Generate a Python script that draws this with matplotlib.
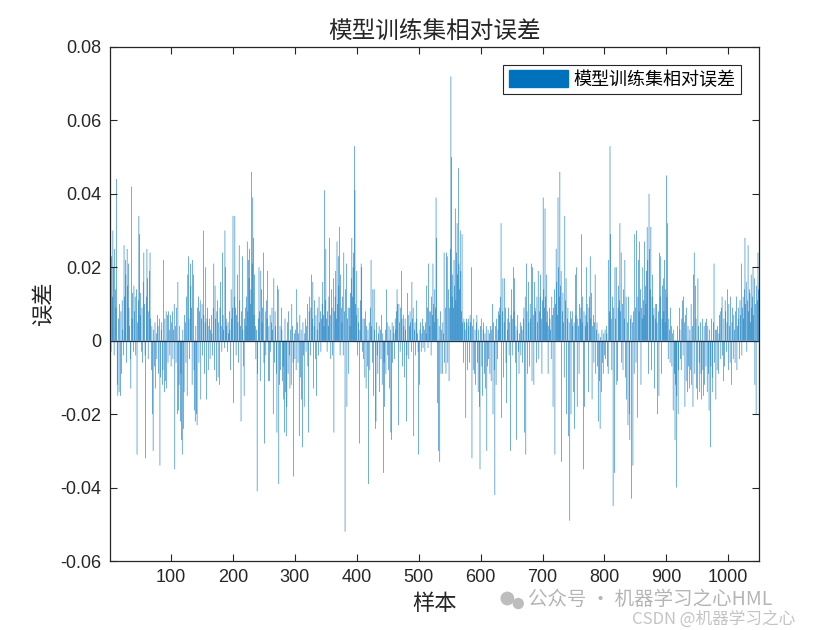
import numpy as np
import matplotlib
matplotlib.use("Agg")
import matplotlib.pyplot as plt
import matplotlib.patches as mpatches

# 相对误差，单位 1e-3（从图上逐段估读）
err_pm = [
    # 1-50
    8, 18, -3, 23, 12, 30, 20, -4, 25, 14, 9, 44, -12, -15, 6, -14, 10, -15, 8, -9, 11, 3, -4, 26, 12,
    22, 18, -6, 25, 15, 21, 9, 4, -5, -13, 42, 6, 13, -3, 15, 8, 12, -4, 14, -31, 5, 11, 34, 29, 7,
    # 51-100
    13, -3, 9, -6, 16, 24, 10, -4, -32, 12, 25, 17, -5, 8, 19, 24, 6, -8, 4, -20, -30, 3, -7, 5, -13,
    2, -5, 7, 4, -9, 6, -34, -10, 3, 5, -12, -8, 22, -14, 6, -11, 8, -13, 7, -6, 8, 3, -4, 7, -7,
    # 101-150
    5, 8, -5, 3, 10, -35, 4, -6, 9, -20, 16, -19, -12, 4, -22, -9, -27, -31, 3, -24, -14, 7, 5, -6, 12,
    -15, 18, 23, 6, -5, 21, 15, 9, -12, 22, 18, -8, -19, -22, 4, -20, -23, 9, 12, -6, 8, 11, -16, 6, 10,
    # 151-200
    -4, 30, 7, -9, 5, 20, -16, 6, 9, -8, 4, 6, -5, 3, 7, 2, -4, 9, 21, -8, 15, 6, -11, 8, 11,
    -10, 5, -12, 9, 16, 4, -3, 24, 7, 3, -2, 30, 20, 6, 4, -3, 5, 2, 8, 3, -8, 14, 6, 9, 34,
    # 201-250
    -17, 12, 34, 9, -4, 7, 18, 5, -6, 26, 11, 4, -22, 8, 23, 3, -7, -15, 6, 9, 4, 12, 27, 8, 22,
    17, 25, 10, 14, 46, 21, 39, 28, 7, 18, 4, -5, 3, -41, -9, 6, 20, 8, -11, 19, 14, 5, 9, 24, -6,
    # 251-300
    -28, 8, -4, 11, 6, 19, -11, 4, -11, 7, -3, 5, 9, 3, -20, 17, -6, 8, 4, -9, -25, 15, 14, -39, -12,
    4, -8, 9, 3, -11, -7, -16, -25, 6, -14, -26, -18, 5, -9, 8, -4, -13, 3, -12, 10, 4, -6, -37, 2, -5,
    # 301-350
    3, -8, 14, 5, -6, 2, -26, 7, -10, 3, -16, -29, 5, -4, -18, 2, 6, -3, 4, 10, -7, -25, 8, 12, -4,
    9, 18, 6, 16, -13, 4, 11, -5, 7, -15, 3, 9, -4, 12, 5, 8, -3, 6, 10, 16, 7, 4, 41, 11, 25,
    # 351-400
    6, -3, 8, 4, 12, 28, 7, -5, 14, 9, -4, 17, -25, 8, 12, 19, 6, 27, 10, 23, 15, 31, -4, 18, 9,
    5, 12, -4, 24, 8, -52, 14, 21, -18, 6, 9, -9, 9, 4, 13, 17, 28, 12, 20, 24, 53, 41, 10, 7, 19,
    # 401-450
    -4, 9, 5, -28, 3, 11, 21, 20, -3, 6, -5, 6, -10, 8, -13, 4, -7, 3, -39, 5, -8, 9, 22, 4, -6,
    14, -15, 14, 3, -24, -22, 5, -4, -9, 2, 4, -14, 3, -5, 7, -12, 2, -36, -6, -18, 3, -9, 14, 5, -4,
    # 451-500
    -8, 4, -13, 3, -25, -27, 5, -6, 4, 2, -5, 6, 3, 8, 14, 10, -23, 10, 5, -3, 9, 19, 6, -7, 7,
    4, -10, 6, 3, -22, -4, 13, 7, -5, 4, 8, 5, -3, 16, 6, 9, -26, 3, 5, -4, 11, 6, 2, -3, -31,
    # 501-550
    -12, 3, 5, -3, 2, 6, -2, 4, 3, -3, 5, 2, 15, 9, -2, 21, 8, 4, 8, -4, 12, 7, 21, 10, 5,
    14, 9, 39, 28, -17, 6, -30, 4, -33, 8, -9, 3, -9, 5, 2, 24, -6, 9, -9, 24, 23, -6, 14, -11, 9,
    # 551-600
    25, 72, 50, 12, 18, 9, 22, 15, 36, 11, 24, 32, 18, 47, 21, 14, 30, 19, 8, 29, 5, -6, 6, 5, 3,
    -21, 6, 5, -8, 6, 4, -6, 7, 5, 20, -32, 4, -8, 6, -9, 3, -12, 5, 7, -6, -14, 3, -18, -35, 4,
    # 601-650
    6, -7, -15, 3, 5, -9, 2, -13, 4, -30, -7, 3, -5, 2, -9, 4, -11, 3, 10, -20, 5, -8, -42, 4, -12,
    6, -5, 3, 8, 7, 9, 12, 32, -21, 8, 17, -10, 5, 17, 9, -6, -17, 3, 6, 9, -4, 5, -30, 7, 14,
    # 651-700
    6, -4, 20, 8, 17, -6, 4, -27, 3, 7, -3, -9, 2, 5, -4, 4, 3, -6, 6, 9, -25, 12, -31, 21, 8,
    -9, 16, 5, -7, 10, 6, 21, -11, 20, 7, -12, 16, 9, 8, -6, 12, 5, 19, -5, 8, 12, 18, 6, -9, 11,
    # 701-750
    39, 14, 9, 36, 12, 18, 5, 8, -9, 4, 9, 6, 3, -5, 12, 7, -18, 9, 14, -31, 10, 25, 16, 7, 39,
    20, 12, 46, 15, 19, -33, 8, 13, 5, -10, 34, 11, 17, -20, 6, 9, -26, 5, -49, 8, -20, 6, 8, 4, -14,
    # 751-800
    5, -24, 18, 7, 20, -18, 6, 4, -9, 10, 6, 9, 29, 5, 12, -35, 8, -18, 4, 7, 20, 10, 5, -14, 9,
    12, 23, 6, 13, -16, 4, 7, -6, 5, 18, -9, 3, 5, -7, -22, 2, -11, -24, 1, -14, 3, -6, -9, 2, -4,
    # 801-850
    3, -5, 4, 2, -7, -9, 22, 8, 53, 29, 6, -8, 12, -45, 9, -36, 20, 6, 20, -12, -11, 9, 15, 11, 32,
    8, 24, -6, 10, -8, 14, 6, 22, -10, 12, -16, 5, -23, 12, -20, -27, 6, 7, -43, 5, -34, 8, -9, 29, 9,
    # 851-900
    -6, 30, -21, 12, 22, 8, 27, 14, -12, 9, 6, 20, 11, 7, 27, 15, 10, 19, 31, 22, -9, 40, 25, 14, 31,
    -8, 12, 18, 7, 9, -13, 6, 10, 10, 5, -20, 8, -15, 24, 12, 23, -9, 6, 15, 17, 8, 22, 5, 14, 45,
    # 901-950
    12, 32, -5, 6, 3, -6, 9, 4, -7, 2, -19, 3, -9, -27, -12, -40, -15, 4, -20, -8, 9, 3, -5, -8, 6,
    11, -4, 12, 5, -18, 7, -11, 9, -14, 4, -7, -13, 3, -8, 10, -12, 4, -18, 18, 24, -9, 15, 6, -13, -16,
    # 951-1000
    17, 4, -6, -14, 5, -9, -16, 6, -8, -15, 4, -12, 5, -7, 6, -14, 4, -9, -19, 3, -29, -7, 6, -10, -14,
    5, 21, -6, 3, -16, 3, -8, 4, -9, 2, 7, 8, -5, 9, 12, -4, -11, 6, -7, 11, 8, -3, 5, 14, -8,
    # 1001-1050
    10, 4, -6, 12, -12, 5, 9, -5, 7, 3, -6, 8, 12, -8, 4, 6, 9, -5, 11, 7, 21, -4, 9, 12, 6,
    14, 28, 10, 16, -3, 11, 26, 8, 14, 13, 5, 18, 9, 12, 20, 7, 17, -12, 10, -20, 15, 11, 24, 14, 17,
]
err = np.array(err_pm) / 1000.0
samples = np.arange(1, len(err) + 1)

x_ticks = [100, 200, 300, 400, 500, 600, 700, 800, 900, 1000]
y_ticks = [-0.06, -0.04, -0.02, 0, 0.02, 0.04, 0.06, 0.08]
y_labels = ["-0.06", "-0.04", "-0.02", "0", "0.02", "0.04", "0.06", "0.08"]

BAR_COLOR = "#0072BD"
TXT = "#262626"
CJK = ["Noto Sans CJK SC", "DejaVu Sans"]

plt.rcParams["font.family"] = ["Liberation Sans", "DejaVu Sans"]

fig = plt.figure(figsize=(8.4, 6.3), dpi=100)
ax = fig.add_axes([0.131, 0.1095, 0.7726, 0.8159])

# 柱宽远小于 1 像素，关掉 snap 以免细柱被吞掉
bars = ax.bar(samples, err, width=0.9, color=BAR_COLOR, linewidth=0)
for b in bars:
    b.set_snap(False)
ax.axhline(0, color="#1d2f45", lw=0.9, zorder=3)

ax.set_xlim(1.4, 1049.7)
ax.set_ylim(-0.06, 0.08)
ax.set_xticks(x_ticks)
ax.set_yticks(y_ticks)
ax.set_yticklabels(y_labels)
ax.tick_params(direction="in", top=True, right=True, length=5, width=0.8,
               labelsize=13, colors=TXT, pad=6)
for sp in ax.spines.values():
    sp.set_color(TXT)
    sp.set_linewidth(0.9)

ax.set_title("模型训练集相对误差", family=CJK, fontsize=17, color=TXT, pad=6)
ax.set_xlabel("样本", family=CJK, fontsize=16, color=TXT, labelpad=4)
ax.set_ylabel("误差", family=CJK, fontsize=16, color=TXT, labelpad=4)

patch = mpatches.Patch(color=BAR_COLOR, label="模型训练集相对误差")
leg = ax.legend(handles=[patch], loc="upper right", fancybox=False,
                framealpha=1, edgecolor=TXT, handlelength=3.3, handleheight=1.0,
                borderaxespad=1.0, prop={"family": CJK, "size": 13},
                borderpad=0.3, handletextpad=0.3)
leg.get_frame().set_linewidth(0.8)

# 水印
for cx, cy, r in [(0.604, 0.050, 0.011), (0.617, 0.042, 0.009)]:
    fig.add_artist(mpatches.Ellipse((cx, cy), 2 * r * 0.75, 2 * r, transform=fig.transFigure,
                                    color="#bdbdbd", lw=0))
fig.text(0.628, 0.048, "公众号 · 机器学习之心HML", family=CJK, fontsize=14,
         color="#b5b5b5", ha="left", va="center")
fig.text(0.752, 0.018, "CSDN @机器学习之心", family=CJK, fontsize=12,
         color="#c4c4c4", ha="left", va="center")

fig.savefig("out.png", dpi=100)
